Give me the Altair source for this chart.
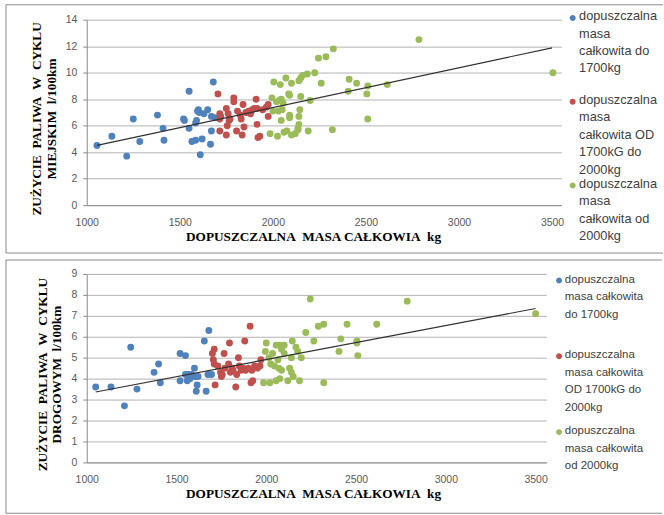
import json
import altair as alt
import pandas as pd

categories = [
    "dopuszczalna masa całkowita do 1700kg",
    "dopuszczalna masa całkowita OD 1700kG do 2000kg",
    "dopuszczalna masa całkowita od 2000kg",
]
colors = ["#4F81BD", "#C0504D", "#9BBB59"]

# ---- top panel: city cycle ----
top_blue_mass = [1055, 1135, 1215, 1250, 1285, 1380, 1410, 1415, 1520, 1525, 1550, 1550, 1565, 1585,
                 1585, 1590, 1595, 1600, 1605, 1610, 1620, 1630, 1650, 1665, 1670, 1670, 1680, 1690]
top_blue_val = [4.5, 5.2, 3.7, 6.5, 4.8, 6.8, 5.8, 4.9, 6.5, 6.4, 8.6, 5.8, 4.8, 4.9,
                6.2, 6.4, 7.1, 7.2, 7.0, 3.8, 5.0, 6.9, 7.2, 4.6, 5.6, 6.7, 9.3, 6.6]
top_red_mass = [1705, 1715, 1715, 1715, 1720, 1750, 1750, 1755, 1760, 1765, 1770, 1790, 1790, 1805,
                1810, 1825, 1830, 1835, 1840, 1845, 1855, 1870, 1880, 1890, 1900, 1910, 1915, 1915,
                1920, 1930, 1945, 1965, 1975, 1975]
top_red_val = [8.4, 6.9, 6.5, 5.6, 6.7, 7.3, 5.3, 6.0, 6.9, 6.4, 6.5, 8.1, 7.8, 5.6,
               7.1, 6.8, 6.5, 5.3, 7.6, 5.9, 7.0, 7.1, 6.9, 7.2, 7.3, 8.0, 6.1, 7.3,
               5.1, 5.2, 7.2, 7.4, 7.6, 6.7]
top_green_mass = [1985, 1995, 2000, 2005, 2020, 2025, 2030, 2035, 2040, 2045, 2045, 2050, 2055, 2060,
                  2070, 2075, 2085, 2090, 2090, 2090, 2100, 2100, 2120, 2135, 2135, 2140, 2140, 2145,
                  2140, 2150, 2150, 2160, 2185, 2190, 2200, 2225, 2245, 2260, 2285, 2320, 2325, 2405,
                  2410, 2450, 2505, 2510, 2510, 2615, 2785, 3505]
top_green_val = [5.4, 8.1, 7.1, 9.3, 7.8, 5.2, 7.1, 7.9, 9.1, 8.0, 6.4, 7.2, 7.7, 5.5,
                 9.6, 5.6, 8.4, 8.3, 6.8, 6.6, 9.2, 5.3, 5.4, 5.7, 5.8, 6.1, 6.7, 7.2,
                 9.4, 9.6, 8.2, 9.8, 9.9, 5.6, 7.9, 10.0, 11.1, 9.2, 11.2, 5.7, 11.8, 8.6,
                 9.5, 9.2, 8.4, 9.0, 6.5, 9.1, 12.5, 10.0]
top_trend_mass = [1055, 3500]
top_trend_val = [4.51, 11.88]

# ---- bottom panel: road cycle ----
bot_blue_mass = [1050, 1135, 1210, 1245, 1280, 1375, 1400, 1410, 1520, 1520, 1550, 1550, 1560, 1565,
                 1575, 1585, 1600, 1605, 1610, 1615, 1620, 1655, 1665, 1675, 1680, 1695]
bot_blue_val = [3.6, 3.6, 2.7, 5.5, 3.5, 4.3, 4.7, 3.8, 5.2, 3.9, 5.1, 4.2, 3.9, 4.2,
                4.0, 4.2, 4.5, 4.1, 3.4, 3.7, 4.1, 5.8, 3.4, 4.2, 6.3, 4.2]
bot_red_mass = [1700, 1705, 1710, 1710, 1715, 1730, 1745, 1750, 1755, 1765, 1770, 1790, 1795, 1800,
                1810, 1815, 1830, 1835, 1845, 1850, 1860, 1870, 1880, 1885, 1900, 1910, 1915, 1920,
                1925, 1935, 1950, 1965, 1970]
bot_red_val = [5.2, 4.9, 5.4, 4.7, 3.7, 4.6, 4.3, 4.1, 4.2, 5.2, 4.5, 4.7, 5.7, 4.3,
               4.5, 4.4, 3.6, 4.2, 5.0, 4.6, 4.4, 4.5, 5.8, 4.4, 4.5, 6.5, 3.8, 4.4,
               3.9, 4.6, 4.5, 4.6, 4.9]
bot_green_mass = [1985, 1995, 2000, 2015, 2020, 2025, 2035, 2045, 2055, 2055, 2065, 2070, 2075, 2075,
                  2085, 2085, 2100, 2100, 2120, 2130, 2140, 2140, 2145, 2150, 2165, 2175, 2185, 2195,
                  2220, 2245, 2265, 2290, 2320, 2320, 2405, 2415, 2450, 2505, 2505, 2510, 2615, 2785, 3500]
bot_green_val = [3.8, 5.3, 5.7, 5.0, 3.8, 4.7, 5.2, 4.6, 3.9, 5.6, 4.9, 4.5, 4.0, 5.6,
                 5.4, 4.4, 5.6, 5.2, 3.9, 4.5, 4.3, 5.0, 5.8, 4.1, 5.5, 5.3, 3.9, 5.0,
                 6.2, 7.8, 5.8, 6.5, 6.6, 3.8, 5.3, 5.9, 6.6, 5.8, 5.7, 5.1, 6.6, 7.7, 7.1]
bot_trend_mass = [1050, 3500]
bot_trend_val = [3.36, 7.35]

x_ticks = [1000, 1500, 2000, 2500, 3000, 3500]

top_legend_lines = [
    ["dopuszczalna", "masa", "całkowita do", "1700kg", ""],
    ["dopuszczalna", "masa", "całkowita OD", "1700kG do", "2000kg"],
    ["dopuszczalna", "masa", "całkowita od", "2000kg"],
]
bot_legend_lines = [
    ["dopuszczalna", "masa całkowita", "do 1700kg", ""],
    ["dopuszczalna", "masa całkowita", "OD 1700kG do", "2000kg"],
    ["dopuszczalna", "masa całkowita", "od 2000kg"],
]

SP2 = "\u00a0\u00a0"
top_y_title = ["ZUŻYCIE" + SP2 + "PALIWA" + SP2 + "W" + SP2 + "CYKLU", "MIEJSKIM" + SP2 + "l/100km"]
bot_y_title = ["ZUŻYCIE" + SP2 + "PALIWA" + SP2 + "W" + SP2 + "CYKLU", "DROGOWYM" + SP2 + "l/100km"]
x_title = "DOPUSZCZALNA" + SP2 + "MASA CAŁKOWIA" + SP2 + "kg"

# legend marker: a circle raised slightly so it sits on the first label line
RAISED_DOT = "M -1 -0.7 A 1 1 0 1 1 1 -0.7 A 1 1 0 1 1 -1 -0.7 Z"


def frame(groups):
    rows = []
    for cat, (ms, vs) in zip(categories, groups):
        for m, v in zip(ms, vs):
            rows.append({"mass": m, "value": v, "group": cat})
    return pd.DataFrame(rows)


def label_expr(lines):
    expr = json.dumps(lines[-1], ensure_ascii=False)
    for cat, ln in reversed(list(zip(categories[:-1], lines[:-1]))):
        expr = (f"datum.label == {json.dumps(cat, ensure_ascii=False)} ? "
                f"{json.dumps(ln, ensure_ascii=False)} : ({expr})")
    return expr


AX_FONT = "Liberation Sans"
TITLE_FONT = "Liberation Serif"


def panel(df, trend_df, xmax, ymax, ystep, w, h, ytitle, lines, lx, ly, rowpad, lfs,
          b_top, b_bottom, b_left, b_right):
    xs = alt.Scale(domain=[1000, xmax], nice=False, zero=False)
    ys = alt.Scale(domain=[0, ymax], nice=False, zero=True)
    xax = alt.Axis(values=x_ticks, tickCount=20, title=x_title, grid=False, ticks=False,
                   labelPadding=12, titlePadding=2, format="d", labelFlush=False,
                   labelOverlap=False, titleX=227)
    yax = alt.Axis(values=list(range(0, ymax + 1, ystep)), tickCount=20, title=ytitle,
                   grid=True, ticks=True, tickSize=4, labelPadding=6, titlePadding=7,
                   format="d", labelFlush=False, labelOverlap=False, titleLineHeight=15,
                   titleY=h / 2 + 6)
    pts = alt.Chart(df).mark_circle(size=48, opacity=1).encode(
        x=alt.X("mass:Q", scale=xs, axis=xax),
        y=alt.Y("value:Q", scale=ys, axis=yax),
        color=alt.Color(
            "group:N",
            scale=alt.Scale(domain=categories, range=colors),
            legend=alt.Legend(
                title=None, orient="none", legendX=lx, legendY=ly,
                symbolType=RAISED_DOT, symbolSize=36, symbolStrokeWidth=0,
                labelFont=AX_FONT, labelFontSize=lfs, labelColor="#404040",
                labelExpr=label_expr(lines), labelLimit=200, labelOffset=0,
                labelBaseline="alphabetic", rowPadding=rowpad,
            ),
        ),
    )
    trend = alt.Chart(trend_df).mark_line(color="#303030", strokeWidth=1.2).encode(
        x=alt.X("mass:Q", scale=xs), y=alt.Y("value:Q", scale=ys)
    )
    one = alt.Data(values=[{"k": 1}])
    bstyle = dict(color="#8c8c8c", strokeWidth=1)
    top_line = alt.Chart(one).mark_rule(**bstyle).encode(
        x=alt.value(b_left), x2=alt.value(b_right), y=alt.value(b_top))
    bot_line = alt.Chart(one).mark_rule(**bstyle).encode(
        x=alt.value(b_left), x2=alt.value(b_right), y=alt.value(b_bottom))
    left_line = alt.Chart(one).mark_rule(**bstyle).encode(
        x=alt.value(b_left), y=alt.value(b_top), y2=alt.value(b_bottom))
    return alt.layer(pts, trend, top_line, bot_line, left_line).properties(width=w, height=h)


top_df = frame([(top_blue_mass, top_blue_val), (top_red_mass, top_red_val),
                (top_green_mass, top_green_val)])
top_trend = pd.DataFrame({"mass": top_trend_mass, "value": top_trend_val})
bot_df = frame([(bot_blue_mass, bot_blue_val), (bot_red_mass, bot_red_val),
                (bot_green_mass, bot_green_val)])
bot_trend = pd.DataFrame({"mass": bot_trend_mass, "value": bot_trend_val})

top = panel(top_df, top_trend, 3550, 14, 2, 476, 186, top_y_title,
            top_legend_lines, 481, -6, 0, 12.8,
            -15, 234, -81, 578)
bot = panel(bot_df, bot_trend, 3560, 9, 1, 461, 189, bot_y_title,
            bot_legend_lines, 468, 3, 11, 11.5,
            -14, 240, -81, 577)

chart = alt.vconcat(top, bot, spacing=5).resolve_scale(color="independent").properties(
    padding={"left": 5, "top": 3, "right": 0, "bottom": 0}
).configure(
    style={"guide-label": {"lineHeight": 17.5}},
).configure_view(stroke=None).configure_axis(
    labelFont=AX_FONT, labelFontSize=10.5, labelColor="#595959",
    titleFont=TITLE_FONT, titleFontSize=13.3, titleFontWeight="bold", titleColor="#000000",
    domainColor="#8c8c8c", tickColor="#8c8c8c", gridColor="#b3b3b3", gridWidth=1,
)

chart.save("out.html", embed_options={"renderer": "svg", "actions": False})
